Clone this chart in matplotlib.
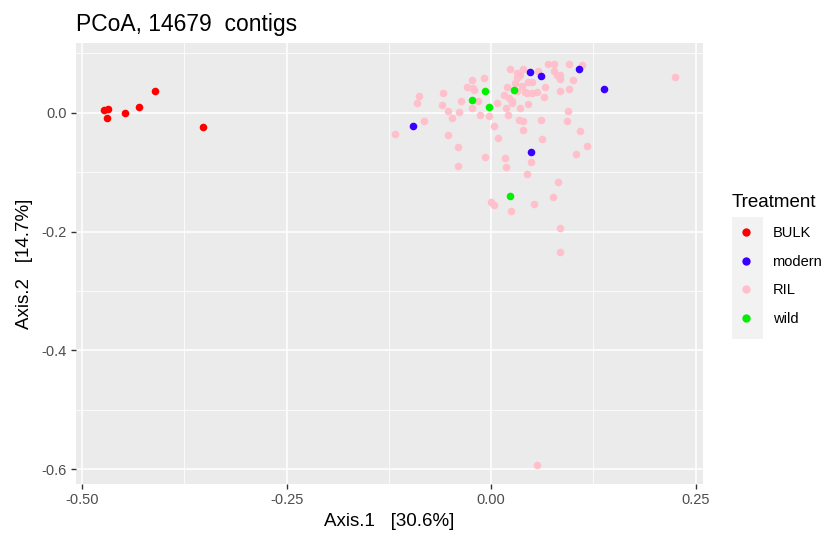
import matplotlib
matplotlib.use("Agg")
import matplotlib.pyplot as plt
from matplotlib.lines import Line2D
from matplotlib.patches import Rectangle

plt.rcParams['font.family'] = ['Liberation Sans', 'DejaVu Sans']

categories = ["BULK", "modern", "RIL", "wild"]
colors = {"BULK": "#FF0000", "modern": "#3A00FF", "RIL": "#FFC0CB", "wild": "#00F000"}

bulk_x = [-0.4104, -0.430, -0.4478, -0.4678, -0.4735, -0.4694, -0.3517]
bulk_y = [0.037, 0.010, -0.0005, 0.0072, 0.0039, -0.0084, -0.0231]

modern_x = [-0.095, 0.048, 0.0615, 0.1076, 0.1378, 0.0485]
modern_y = [-0.0219, 0.069, 0.0623, 0.0741, 0.040, -0.0657]

wild_x = [-0.0077, 0.0285, -0.0236, -0.0021, 0.0232]
wild_y = [0.0375, 0.0382, 0.0219, 0.0106, -0.1402]

ril_x = [-0.1174, -0.0901, -0.088, -0.0815, -0.0587, -0.0599, -0.0529, -0.048, -0.0395,
         -0.037, -0.0529, -0.040, -0.040, -0.0297, -0.0232, -0.0204, -0.0163, -0.0236,
         -0.0086, -0.0134, -0.0024, 0.004, 0.0077, 0.0086, -0.007, 0.0167, 0.0187, 0.0,
         0.004, 0.0248, 0.018, 0.0204, 0.0192, 0.0224, 0.026, 0.0236, 0.0314, 0.0322,
         0.0395, 0.0355, 0.0346, 0.0388, 0.0388, 0.0456, 0.0498, 0.0444, 0.0498, 0.0559,
         0.0456, 0.0436, 0.0485, 0.0578, 0.0656, 0.0644, 0.0608, 0.0623, 0.0693, 0.077,
         0.0774, 0.0803, 0.0847, 0.0844, 0.0954, 0.1109, 0.1002, 0.095, 0.0847, 0.0945,
         0.0933, 0.1092, 0.1174, 0.1043, 0.0823, 0.0754, 0.0529, 0.084, 0.0847, 0.2249,
         0.0559, 0.0355, 0.0416, 0.0314, 0.0253, -0.022, 0.029, 0.038, 0.016]
ril_y = [-0.0359, 0.0173, 0.0286, -0.013, 0.0337, 0.013, 0.0034, -0.0089, 0.0012,
         0.0202, -0.0375, -0.0577, -0.0897, 0.0438, 0.0544, 0.0387, 0.0197, 0.0079,
         0.0584, -0.0034, -0.0062, -0.0224, 0.0163, -0.0426, -0.0736, -0.0758, -0.0921, -0.1498,
         -0.156, -0.165, 0.0084, -0.0039, 0.0426, 0.0247, 0.0197, 0.0736, 0.0668, 0.0584,
         0.0736, 0.0084, -0.0113, -0.013, -0.0286, 0.0517, 0.0517, 0.0332, 0.0332, 0.0354,
         0.0146, -0.1032, -0.0825, 0.0707, 0.0438, 0.0264, -0.0118, -0.0443, 0.083, 0.0825,
         0.0712, 0.0635, 0.064, 0.0567, 0.083, 0.0813, 0.055, 0.0409, 0.037, 0.0029,
         -0.0135, -0.0308, -0.0556, -0.069, -0.1162, -0.1426, -0.1532, -0.1941, -0.2352, 0.0611,
         -0.5926, 0.064, 0.0342, 0.0359, 0.0163, 0.041, 0.05, 0.045, 0.03]

x_ticks = [-0.50, -0.25, 0.00, 0.25]
x_ticklabels = ["-0.50", "-0.25", "0.00", "0.25"]
y_ticks = [0.0, -0.2, -0.4, -0.6]
y_ticklabels = ["0.0", "-0.2", "-0.4", "-0.6"]

fig = plt.figure(figsize=(8.28, 5.4), dpi=100)
ax = fig.add_axes([0.0912, 0.1037, 0.849 - 0.0912, 0.9198 - 0.1037])
ax.set_facecolor("#EBEBEB")

ax.set_xlim(-0.508, 0.259)
ax.set_ylim(-0.625, 0.117)

ax.set_xticks(x_ticks)
ax.set_xticklabels(x_ticklabels)
ax.set_yticks(y_ticks)
ax.set_yticklabels(y_ticklabels)
ax.set_xticks([-0.375, -0.125, 0.125], minor=True)
ax.set_yticks([0.1, -0.1, -0.3, -0.5], minor=True)
ax.grid(True, which="major", color="white", linewidth=1.1)
ax.grid(True, which="minor", color="white", linewidth=0.55)
ax.set_axisbelow(True)
for s in ax.spines.values():
    s.set_visible(False)
ax.tick_params(which="major", length=3.5, width=1, color="#333333", labelsize=10.5,
               labelcolor="#4D4D4D", pad=3)
ax.tick_params(which="minor", length=0)

series = [("BULK", bulk_x, bulk_y), ("modern", modern_x, modern_y),
          ("RIL", ril_x, ril_y), ("wild", wild_x, wild_y)]
draw_order = ["RIL", "BULK", "modern", "wild"]
lookup = {n: (xs, ys) for n, xs, ys in series}
for n in draw_order:
    xs, ys = lookup[n]
    ax.scatter(xs, ys, s=30, color=colors[n], linewidths=0, zorder=3)

ax.set_xlabel("Axis.1   [30.6%]", fontsize=13.5, labelpad=4)
ax.set_ylabel("Axis.2   [14.7%]", fontsize=13.5, labelpad=6)
ax.set_title("PCoA, 14679  contigs", loc="left", fontsize=16.5, pad=9, x=0.0)

# legend
fig.patches.append(Rectangle((732 / 828, 1 - 339 / 540), 31 / 828, 122 / 540,
                             transform=fig.transFigure, facecolor="#F2F2F2",
                             edgecolor="none", zorder=0))
handles = [Line2D([], [], marker="o", linestyle="none", markersize=6,
                  markerfacecolor=colors[c], markeredgewidth=0) for c in categories]
leg = fig.legend(handles, categories, title="Treatment", loc="upper left",
                 bbox_to_anchor=(0.8837, 0.641), frameon=False, fontsize=10.5,
                 title_fontsize=13.5, labelspacing=1.02, handletextpad=0.9,
                 handlelength=1.9, borderaxespad=0, borderpad=0)
leg._legend_box.align = "left"

fig.savefig("out.png", dpi=100)
